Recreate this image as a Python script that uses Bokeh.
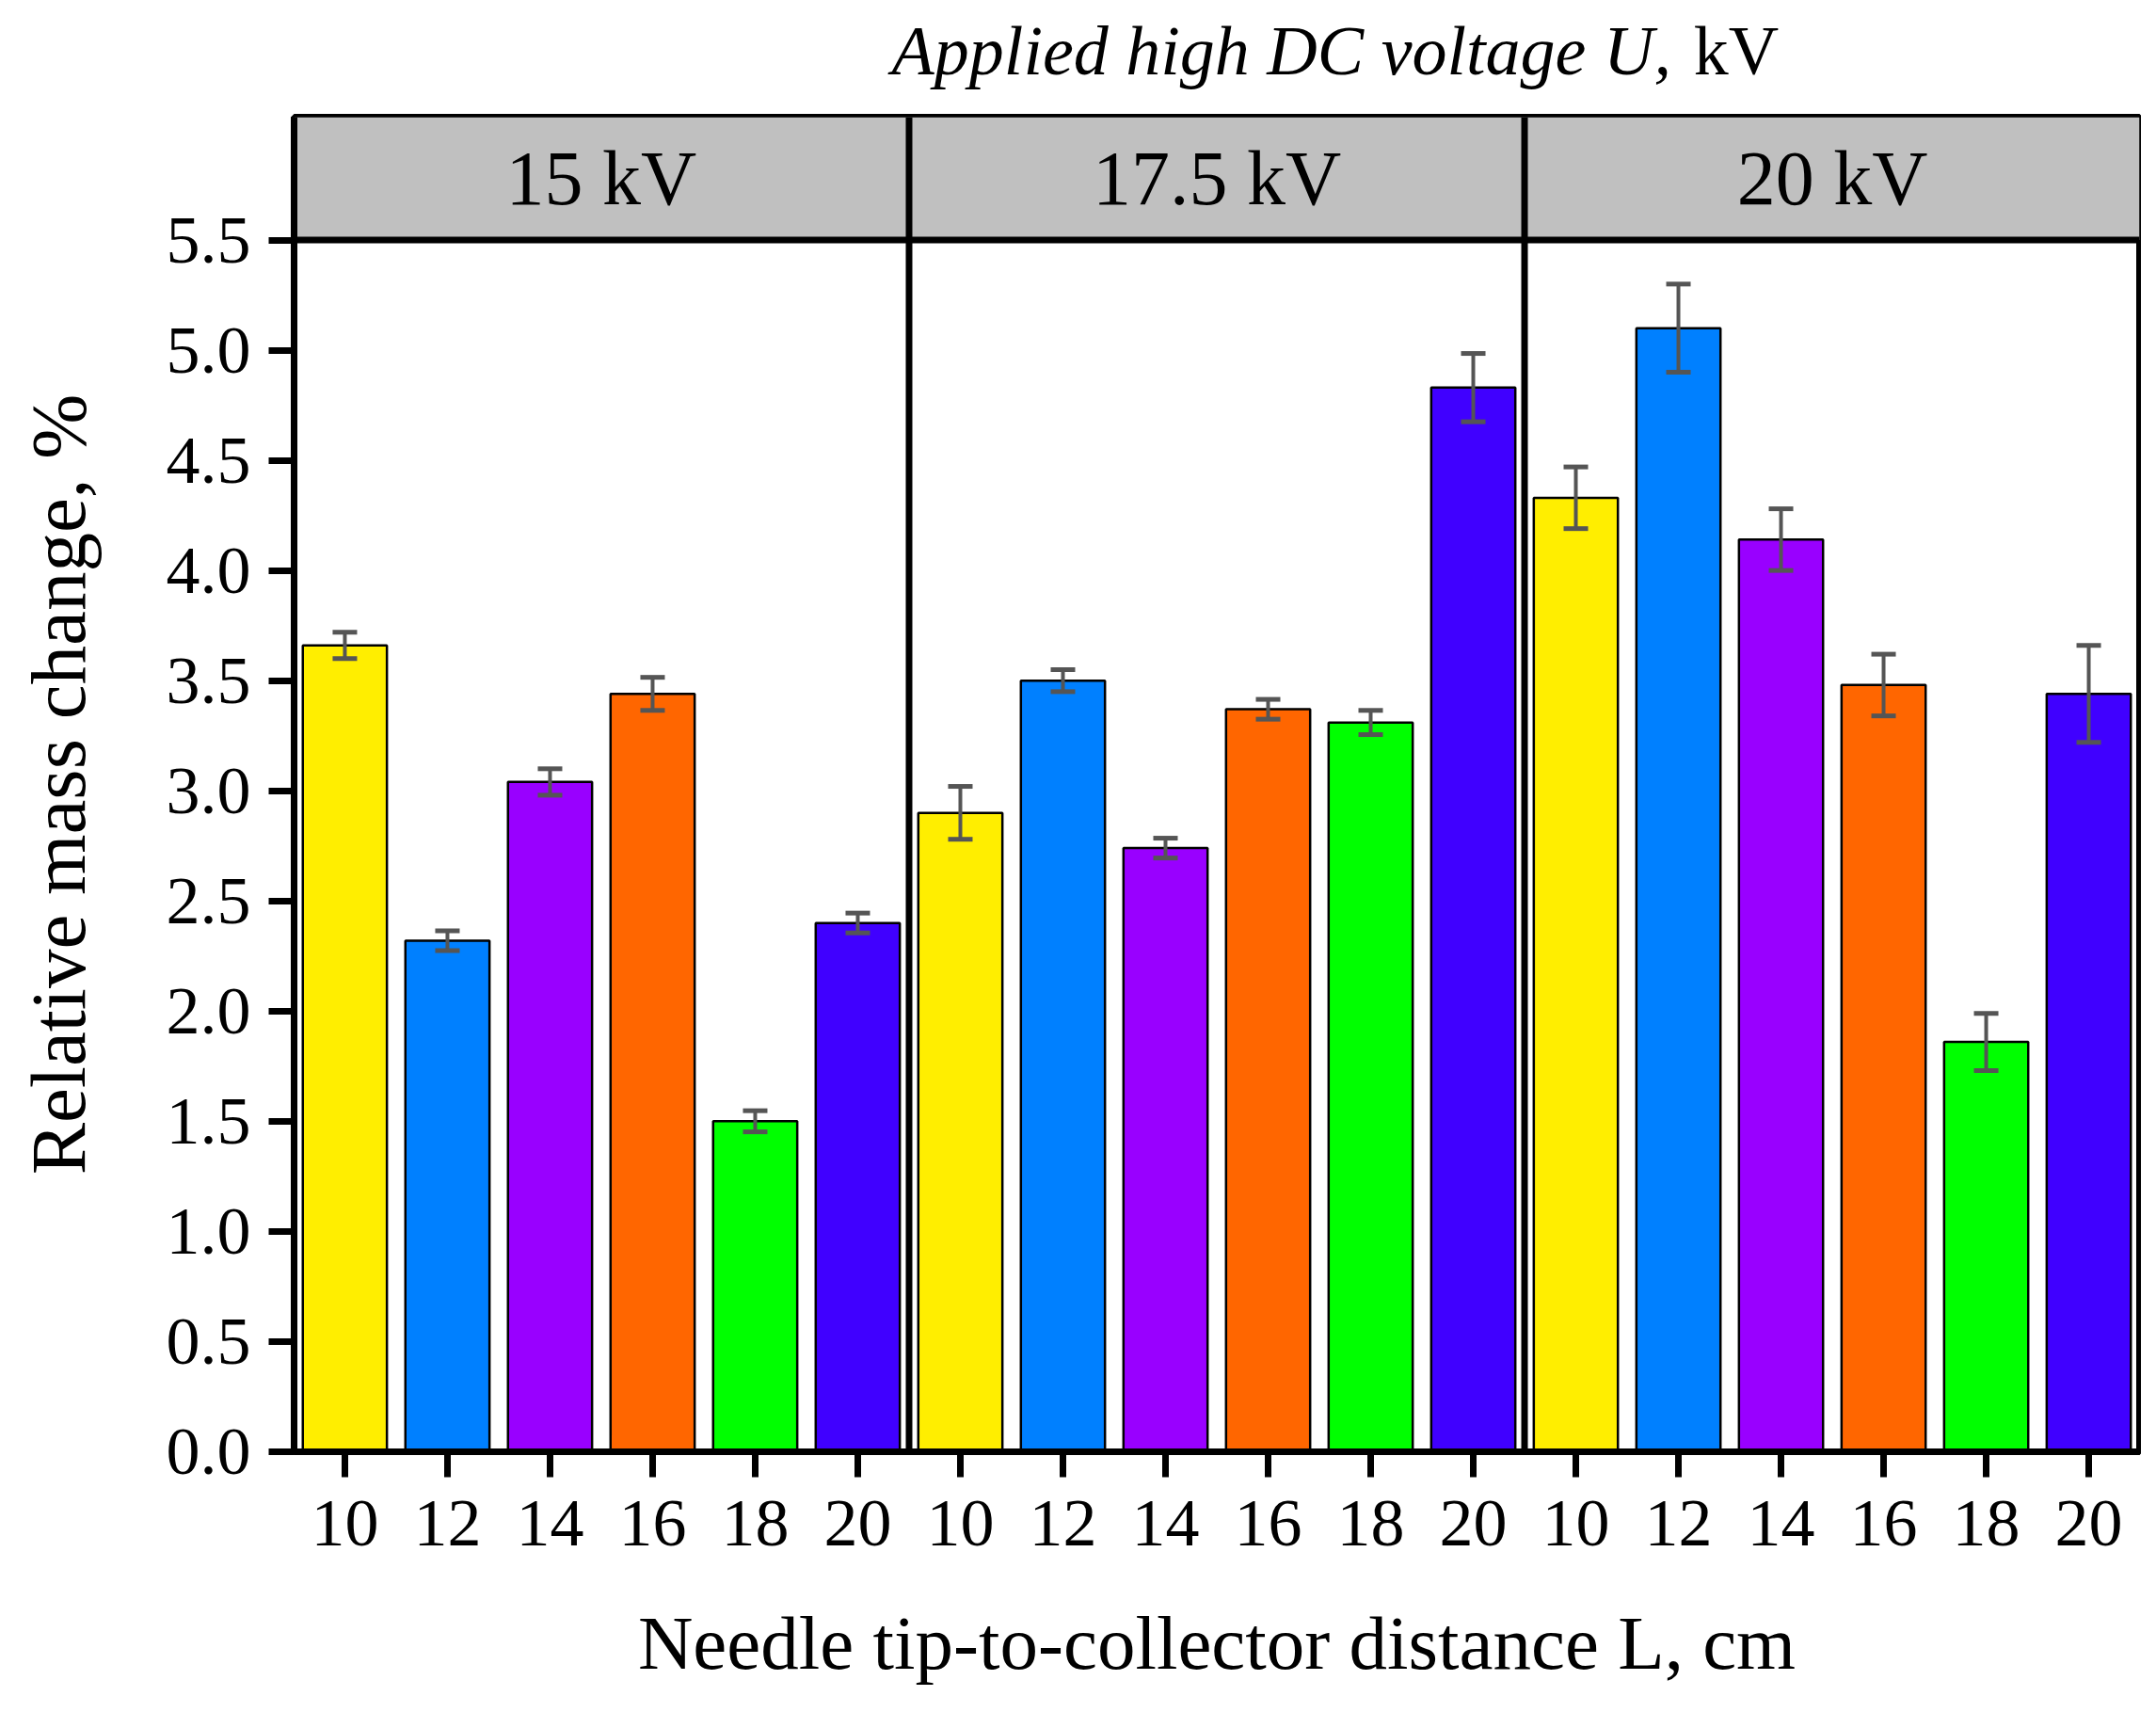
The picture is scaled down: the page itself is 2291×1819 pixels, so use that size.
from bokeh.plotting import figure
from bokeh.layouts import column
from bokeh.models import (ColumnDataSource, FixedTicker, NumeralTickFormatter, Whisker,
                          TeeHead, BoxAnnotation, Span, Range1d)
from bokeh.core.properties import value
from bokeh.embed import file_html
from bokeh.resources import INLINE

# ---- data ----
voltages = ["15 kV", "17.5 kV", "20 kV"]
distances = ["10", "12", "14", "16", "18", "20"]
mass_15kv = [3.66, 2.32, 3.04, 3.44, 1.50, 2.40]
err_15kv = [0.06, 0.045, 0.06, 0.075, 0.048, 0.045]
mass_17_5kv = [2.90, 3.50, 2.74, 3.37, 3.31, 4.83]
err_17_5kv = [0.12, 0.05, 0.045, 0.045, 0.055, 0.155]
mass_20kv = [4.33, 5.10, 4.14, 3.48, 1.86, 3.44]
err_20kv = [0.14, 0.20, 0.14, 0.14, 0.13, 0.22]
bar_colors = ["#FFEE00", "#0080FF", "#9900FF", "#FF6600", "#00FF00", "#4000FF"]
y_ticks = [0.0, 0.5, 1.0, 1.5, 2.0, 2.5, 3.0, 3.5, 4.0, 4.5, 5.0, 5.5]
title_main = "Applied high DC voltage U,"
title_unit = "kV"
x_title = "Needle tip-to-collector distance L, cm"
y_title = "Relative mass change, %"

FONT = "Liberation Serif"

groups = [mass_15kv, mass_17_5kv, mass_20kv]
errs = [err_15kv, err_17_5kv, err_20kv]
xs, tops, cols, ups, lows = [], [], [], [], []
n = len(distances)
for g, (vals, es) in enumerate(zip(groups, errs)):
    for i, (v, e) in enumerate(zip(vals, es)):
        xs.append(g * n + i + 1)
        tops.append(v)
        cols.append(bar_colors[i])
        ups.append(v + e)
        lows.append(v - e)
src = ColumnDataSource(dict(x=xs, top=tops, color=cols, upper=ups, lower=lows))

x_range = Range1d(0.505, len(xs) + 0.495)
y_header = 5.5
y_end = 6.0575

# ---------------- title strip ----------------
t = figure(width=2275, height=116, x_range=x_range, y_range=Range1d(0, 116),
           output_backend="svg", toolbar_location=None,
           x_axis_location=None, y_axis_location=None,
           min_border_left=312, min_border_right=2, min_border_top=0, min_border_bottom=0)
t.xgrid.visible = False
t.ygrid.visible = False
t.outline_line_color = None
t.title.visible = False
t.text(x=[13.93], y=[63], text=[title_main], text_align="right",
       text_baseline="middle", text_font=value(FONT), text_font_style="italic",
       text_font_size="74px", text_color="black")
t.text(x=[14.15], y=[63], text=[title_unit], text_align="left",
       text_baseline="middle", text_font=value(FONT), text_font_style="normal",
       text_font_size="74px", text_color="black")

# ---------------- main plot ----------------
p = figure(width=2275, height=1687, x_range=x_range,
           y_range=Range1d(0, y_end), output_backend="svg", toolbar_location=None,
           min_border_left=312, min_border_right=2, min_border_top=8,
           min_border_bottom=261)
p.title.visible = False
p.xgrid.visible = False
p.ygrid.visible = False
p.outline_line_color = "black"
p.outline_line_width = 7
p.outline_line_alpha = 1.0
p.background_fill_color = "white"
p.border_fill_color = "white"

# header band
p.add_layout(BoxAnnotation(bottom=y_header, fill_color="#C0C0C0", fill_alpha=1.0,
                           line_alpha=0, level="underlay"))
p.add_layout(Span(location=y_header, dimension="width", line_color="black",
                  line_width=7, line_alpha=1.0))
for g in range(1, len(voltages)):
    p.add_layout(Span(location=g * n + 0.5, dimension="height", line_color="black",
                      line_width=7, line_alpha=1.0))

# bars
p.vbar(x="x", top="top", width=0.82, source=src, fill_color="color",
       line_color="black", line_width=2.5)

# error bars
ec = "#555555"
p.add_layout(Whisker(source=src, base="x", upper="upper", lower="lower",
                     line_color=ec, line_width=4, level="overlay",
                     upper_head=TeeHead(size=26, line_color=ec, line_width=5),
                     lower_head=TeeHead(size=26, line_color=ec, line_width=5)))

# header labels
centers = [g * n + (n + 1) / 2 for g in range(len(voltages))]
p.text(x=centers, y=[(y_header + y_end) / 2] * len(voltages), text=voltages,
       text_align="center", text_baseline="middle", text_font=value(FONT),
       text_font_size="82px", text_color="black")

# y axis
ya = p.yaxis[0]
ya.ticker = FixedTicker(ticks=y_ticks)
ya.formatter = NumeralTickFormatter(format="0.0")
ya.axis_line_width = 7
ya.major_tick_line_width = 7
ya.major_tick_out = 27
ya.major_tick_in = 0
ya.minor_tick_out = 0
ya.minor_tick_in = 0
ya.major_label_standoff = 19
ya.major_label_text_font = FONT
ya.major_label_text_font_size = "72px"
ya.major_label_text_color = "black"
ya.axis_label = y_title
ya.axis_label_text_font = FONT
ya.axis_label_text_font_size = "83px"
ya.axis_label_text_font_style = "normal"
ya.axis_label_text_color = "black"
ya.axis_label_standoff = 66

# x axis
xa = p.xaxis[0]
xa.ticker = FixedTicker(ticks=xs)
xa.major_label_overrides = {x: distances[i % n] for i, x in enumerate(xs)}
xa.axis_line_width = 7
xa.major_tick_line_width = 7
xa.major_tick_out = 27
xa.major_tick_in = 0
xa.minor_tick_out = 0
xa.minor_tick_in = 0
xa.major_label_standoff = 25
xa.major_label_text_font = FONT
xa.major_label_text_font_size = "72px"
xa.major_label_text_color = "black"
xa.axis_label = x_title
xa.axis_label_text_font = FONT
xa.axis_label_text_font_size = "81px"
xa.axis_label_text_font_style = "normal"
xa.axis_label_text_color = "black"
xa.axis_label_standoff = 56

layout = column(t, p, spacing=0)
open("out.html", "w").write(file_html(layout, INLINE))
